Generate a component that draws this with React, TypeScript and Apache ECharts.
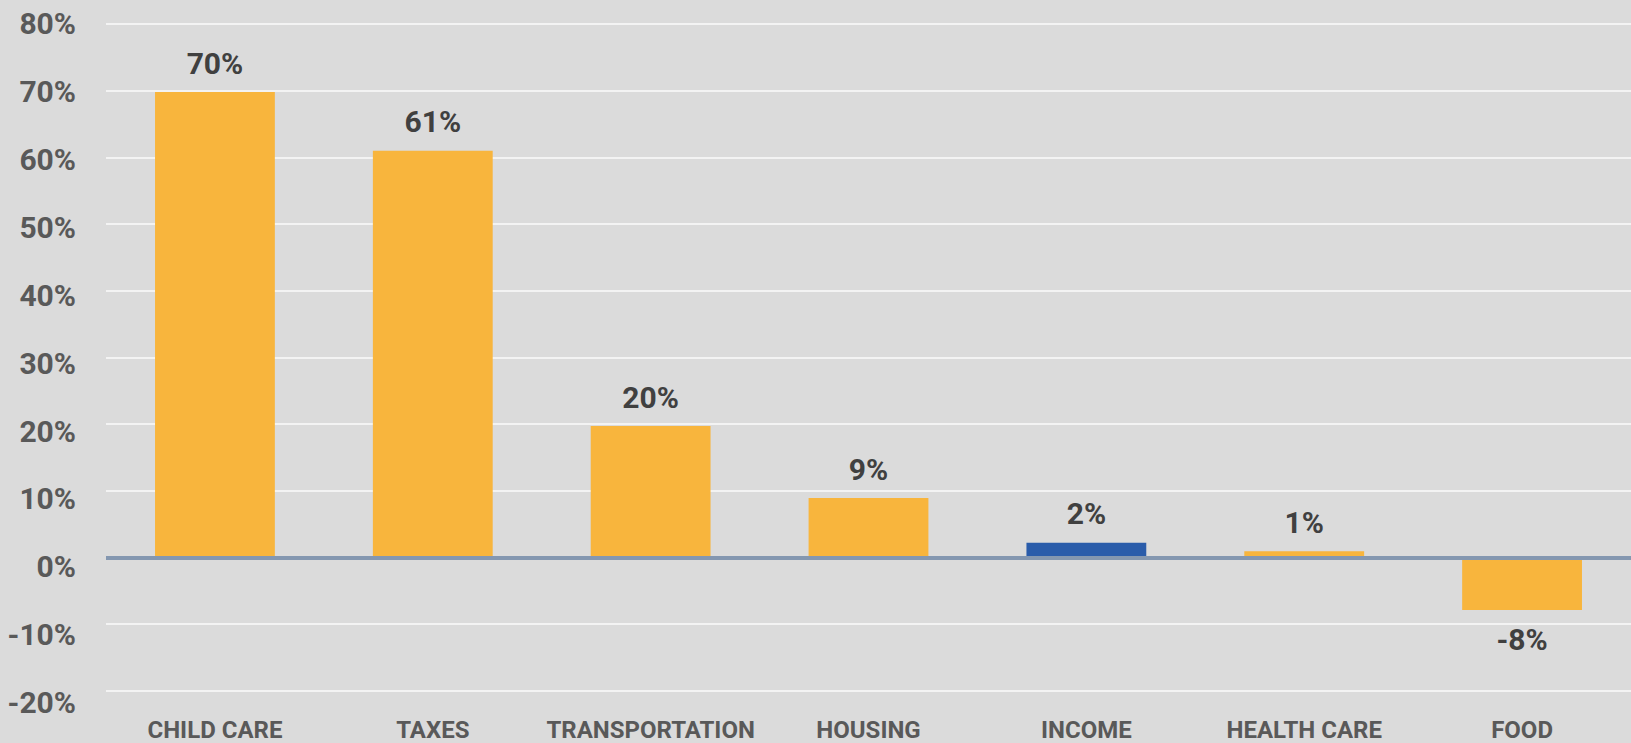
import React, { useEffect, useRef } from "react";
import * as echarts from "echarts";

const categories = ["CHILD CARE", "TAXES", "TRANSPORTATION", "HOUSING", "INCOME", "HEALTH CARE", "FOOD"];
const values = [69.8, 61.0, 19.7, 8.9, 2.2, 0.9, -7.9];
const highlightIndex = 4;
const yMin = -20;
const yMax = 80;
const yStep = 10;

const ORANGE = "#F8B53D";
const BLUE = "#2A5CAA";

export default function App() {
  const ref = useRef<HTMLDivElement>(null);
  useEffect(() => {
    if (!ref.current) return;
    const chart = echarts.init(ref.current, undefined, { renderer: "svg" });
    const data = values.map((v, i) => ({
      value: v,
      itemStyle: { color: i === highlightIndex ? BLUE : ORANGE },
      label: { position: v < 0 ? "bottom" : "top" },
    }));
    chart.setOption({
      animation: false,
      backgroundColor: "#DBDBDB",
      grid: [
        { left: 106, right: -7, top: 24, bottom: 52.3, containLabel: false },
        { left: 106, right: -7, top: 23.5, bottom: 40.3, containLabel: false },
      ],
      xAxis: [
        {
          type: "category",
          gridIndex: 0,
          data: categories,
          axisLine: { show: false, onZero: false },
          axisTick: { show: false },
          axisLabel: {
            interval: 0,
            margin: 27,
            color: "#595959",
            fontFamily: "'Liberation Sans Narrow', Roboto, sans-serif",
            fontWeight: "bold",
            fontSize: 24,
          },
        },
        { type: "category", gridIndex: 1, data: categories, show: false },
      ],
      yAxis: [
        {
          type: "value",
          gridIndex: 0,
          min: yMin,
          max: yMax,
          interval: yStep,
          axisLabel: { show: false },
          axisLine: { show: false },
          axisTick: { show: false },
          splitLine: { lineStyle: { color: "#F3F3F3", width: 2 } },
        },
        {
          type: "value",
          gridIndex: 1,
          min: yMin,
          max: yMax,
          interval: yStep,
          axisLine: { show: false },
          axisTick: { show: false },
          splitLine: { show: false },
          axisLabel: {
            margin: 30,
            color: "#595959",
            fontFamily: "Roboto, 'Liberation Sans', sans-serif",
            fontWeight: "bold",
            fontSize: 30,
            formatter: (v: number) => `${v}%`,
          },
        },
      ],
      series: [
        {
          type: "bar",
          xAxisIndex: 0,
          yAxisIndex: 0,
          data,
          barWidth: "55%",
          label: {
            show: true,
            distance: 14,
            color: "#404040",
            fontFamily: "Roboto, 'Liberation Sans', sans-serif",
            fontWeight: "bold",
            fontSize: 30,
            formatter: (p: any) => `${Math.round(p.value)}%`,
          },
          markLine: {
            silent: true,
            symbol: "none",
            label: { show: false },
            lineStyle: { color: "#8497B0", width: 4, type: "solid" },
            data: [{ yAxis: 0 }],
          },
        },
      ],
    });
    return () => chart.dispose();
  }, []);
  return (
    <div
      ref={ref}
      style={{ position: "fixed", left: 0, top: 0, width: 1631, height: 743 }}
    />
  );
}
